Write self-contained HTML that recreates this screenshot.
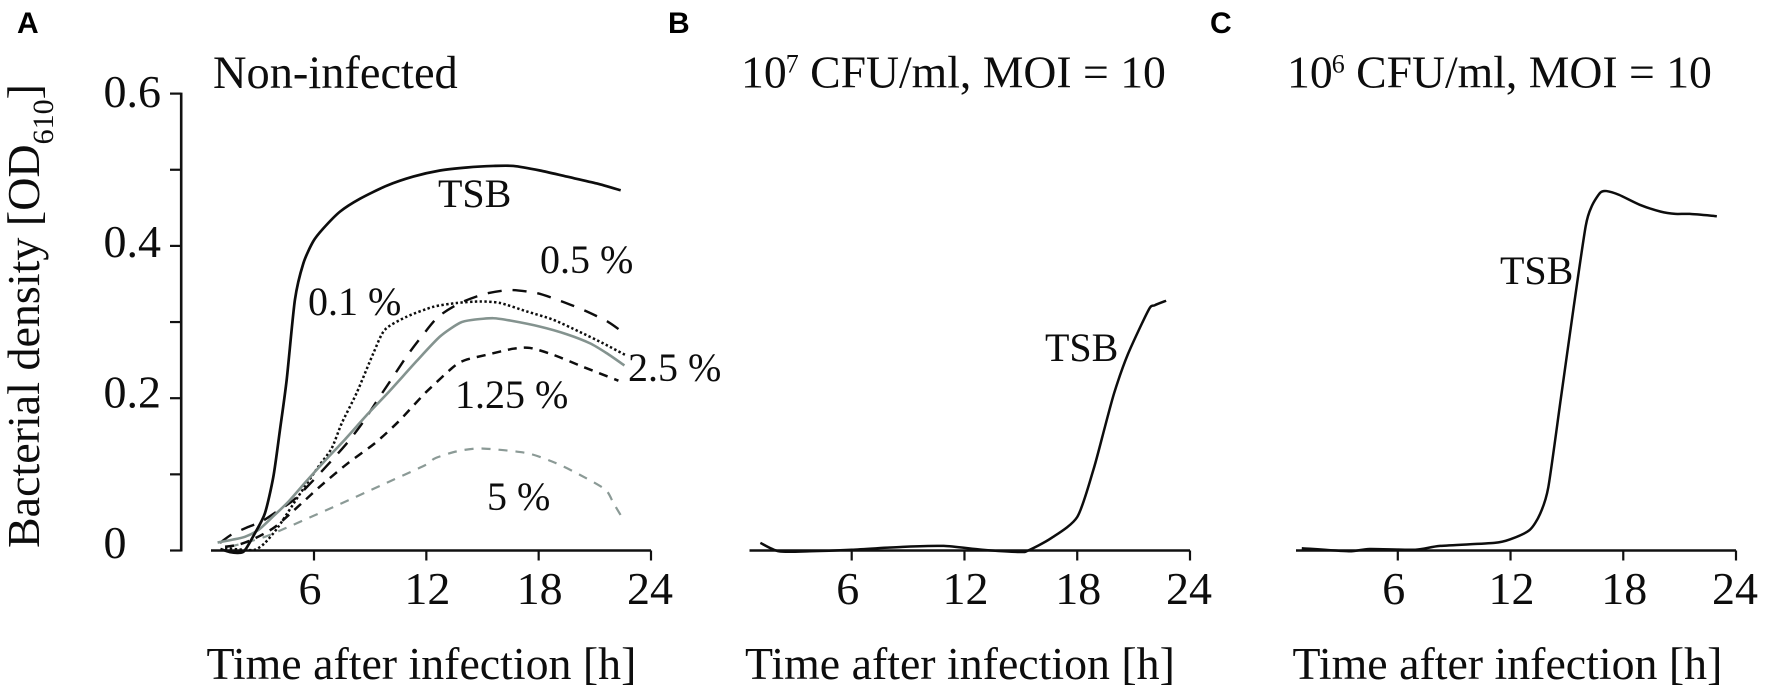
<!DOCTYPE html>
<html lang="en">
<head>
<meta charset="utf-8">
<title>Bacterial density over time</title>
<style>
  html, body { margin: 0; padding: 0; background: #fff; }
  #figure { display: block; width: 1772px; height: 695px; filter: blur(0.35px); }
  text { font-family: "Liberation Serif", serif; fill: #0d0d0d; }
  .big { font-size: 46px; }
  .xtitle { font-size: 45.85px; }
  .ptitle { font-size: 45.7px; }
  .lab { font-size: 40px; }
  .letter { font-family: "Liberation Sans", sans-serif; font-weight: 700; font-size: 30px; fill: #000; }
</style>
</head>
<body>
<svg id="figure" xmlns="http://www.w3.org/2000/svg" width="1772" height="695" viewBox="0 0 1772 695">
  <rect x="0" y="0" width="1772" height="695" fill="#fff"/>

  <text class="letter" x="17" y="33">A</text>
  <text class="letter" x="668" y="33">B</text>
  <text class="letter" x="1210" y="33">C</text>

  <text class="big" x="213" y="88" font-size="46.4" style="font-size:46.4px">Non-infected</text>
  <text class="ptitle" x="741" y="87.5">10<tspan font-size="26" style="font-size:26px" dx="-1" dy="-15">7</tspan><tspan dy="15"> CFU/ml, MOI = 10</tspan></text>
  <text class="ptitle" x="1287" y="87.5">10<tspan font-size="26" style="font-size:26px" dx="-1" dy="-15">6</tspan><tspan dy="15"> CFU/ml, MOI = 10</tspan></text>

  <text class="big" transform="translate(39 548) rotate(-90)" x="0" y="0">Bacterial density [OD<tspan font-size="30" style="font-size:30px" dy="14">610</tspan><tspan dy="-14">]</tspan></text>

  <text class="xtitle" x="206.5" y="679">Time after infection [h]</text>
  <text class="xtitle" x="745" y="679">Time after infection [h]</text>
  <text class="xtitle" x="1292.5" y="679">Time after infection [h]</text>

  <text class="lab" x="438" y="207">TSB</text>
  <text class="lab" x="540" y="273">0.5 %</text>
  <text class="lab" x="308" y="315">0.1 %</text>
  <text class="lab" x="628" y="381">2.5 %</text>
  <text class="lab" x="455" y="408">1.25 %</text>
  <text class="lab" x="487" y="510">5 %</text>
  <text class="lab" x="1045" y="361">TSB</text>
  <text class="lab" x="1500" y="284">TSB</text>

  <g id="axes"></g>
  <g id="series"></g>
</svg>

<script>
var xTickValues = [6, 12, 18, 24];
var xTickLabels = ["6", "12", "18", "24"];
var yTickValues = [0, 0.1, 0.2, 0.3, 0.4, 0.5, 0.6];
var yLabelValues = [0, 0.2, 0.4, 0.6];
var yLabelTexts = ["0", "0.2", "0.4", "0.6"];

var tsbAHours = [1.0, 1.5, 2.0, 2.3, 2.85, 3.38, 3.83, 4.18, 4.54, 4.98, 5.43, 5.96, 6.5, 7.39, 8.46, 9.88, 11.3, 12.73, 14.16, 15.58, 16.65, 18.07, 19.5, 21.1, 22.38];
var tsbAValues = [0.002, -0.002, -0.003, 0, 0.023, 0.049, 0.097, 0.158, 0.224, 0.329, 0.377, 0.406, 0.423, 0.445, 0.462, 0.479, 0.491, 0.499, 0.503, 0.505, 0.505, 0.499, 0.491, 0.482, 0.473];

var p01Hours = [1.25, 2.2, 2.85, 3.38, 4.09, 5.16, 6.23, 6.94, 7.48, 8.28, 9.17, 9.79, 10.95, 12.37, 13.62, 14.87, 15.94, 17.36, 18.78, 20.2, 21.45, 22.61];
var p01Values = [0.003, 0.001, 0.001, 0.01, 0.031, 0.071, 0.11, 0.134, 0.167, 0.207, 0.259, 0.29, 0.307, 0.32, 0.325, 0.327, 0.325, 0.314, 0.303, 0.287, 0.272, 0.257];

var p05Hours = [0.98, 1.6, 2.49, 3.2, 4.0, 4.9, 5.88, 6.9, 7.83, 8.63, 9.43, 10.06, 10.95, 11.75, 12.64, 13.8, 15.13, 16.47, 17.9, 19.14, 20.47, 21.72, 22.58];
var p05Values = [0.01, 0.021, 0.031, 0.038, 0.051, 0.066, 0.09, 0.117, 0.143, 0.169, 0.199, 0.222, 0.255, 0.281, 0.307, 0.325, 0.337, 0.342, 0.338, 0.328, 0.315, 0.3, 0.285];

var p25Hours = [0.85, 1.6, 2.31, 3.03, 3.74, 4.63, 5.52, 6.59, 7.66, 8.9, 10.06, 11.49, 12.73, 13.8, 14.51, 15.58, 16.47, 18.07, 19.5, 20.75, 21.64, 22.58];
var p25Values = [0.0105, 0.014, 0.018, 0.027, 0.043, 0.064, 0.089, 0.118, 0.146, 0.18, 0.21, 0.249, 0.281, 0.299, 0.303, 0.305, 0.302, 0.294, 0.284, 0.272, 0.259, 0.243];

var p125Hours = [1.25, 1.96, 2.85, 3.92, 5.34, 6.41, 7.83, 9.26, 10.5, 11.75, 12.2, 13.44, 14.07, 15.22, 16.65, 17.54, 18.78, 20.39, 22.26];
var p125Values = [0.005, 0.0075, 0.016, 0.031, 0.062, 0.086, 0.115, 0.141, 0.169, 0.202, 0.213, 0.241, 0.25, 0.257, 0.265, 0.266, 0.257, 0.241, 0.223];

var p5Hours = [1.5, 2.31, 3.38, 4.45, 7.3, 9.62, 11.93, 12.46, 13.59, 14.92, 17.35, 18.9, 20.23, 21.56, 22.0, 22.56];
var p5Values = [0.005, 0.01, 0.018, 0.029, 0.06, 0.086, 0.112, 0.121, 0.13, 0.134, 0.128, 0.115, 0.099, 0.08, 0.062, 0.039];

var tsbBHours = [1.14, 2.12, 3.76, 6, 8.86, 10.9, 12.94, 14.98, 15.39, 16.6, 18, 18.86, 19.47, 19.98, 20.7, 21.8, 22.12, 22.73];
var tsbBValues = [0.01, -0.001, -0.001, 0.001, 0.005, 0.006, 0.001, -0.002, 0, 0.016, 0.044, 0.106, 0.162, 0.208, 0.258, 0.316, 0.322, 0.328];

var tsbCHours = [0.89, 3.39, 4.5, 6.93, 8.26, 11.14, 12.02, 13.02, 13.57, 14.01, 14.68, 15.34, 16, 16.34, 16.78, 17.11, 17.78, 18.88, 19.99, 20.77, 21.54, 22.98];
var tsbCValues = [0.003, -0.001, 0.002, 0.001, 0.006, 0.01, 0.015, 0.027, 0.048, 0.083, 0.2, 0.316, 0.426, 0.453, 0.47, 0.472, 0.467, 0.454, 0.445, 0.442, 0.442, 0.439];

var NS = "http://www.w3.org/2000/svg";
var axesLayer = document.getElementById("axes");
var seriesLayer = document.getElementById("series");

var Y_ZERO = 550.5;
var Y_PER_OD = 761.5;
function yScale(od) { return Y_ZERO - od * Y_PER_OD; }
function yLabelBaseline(od) { return 558 - od * 752; }

function xScaleFor(x6, x24) {
  return function (h) { return x6 + (h - 6) * (x24 - x6) / 18; };
}
var xA = xScaleFor(314, 651);
var xB = xScaleFor(851.7, 1190);
var xC = xScaleFor(1397.8, 1736);

function make(tag, parent) {
  var el = document.createElementNS(NS, tag);
  parent.appendChild(el);
  return el;
}

function line(x1, y1, x2, y2, width) {
  var el = make("line", axesLayer);
  el.setAttribute("x1", x1);
  el.setAttribute("y1", y1);
  el.setAttribute("x2", x2);
  el.setAttribute("y2", y2);
  el.setAttribute("stroke", "#111");
  el.setAttribute("stroke-width", width);
  return el;
}

function curvePath(hours, values, xs) {
  var pts = hours.map(function (h, i) { return [xs(h), yScale(values[i])]; });
  var d = "M" + pts[0][0].toFixed(2) + " " + pts[0][1].toFixed(2);
  for (var i = 0; i < pts.length - 1; i++) {
    var p0 = pts[Math.max(0, i - 1)];
    var p1 = pts[i];
    var p2 = pts[i + 1];
    var p3 = pts[Math.min(pts.length - 1, i + 2)];
    var c1x = p1[0] + (p2[0] - p0[0]) / 8;
    var c1y = p1[1] + (p2[1] - p0[1]) / 8;
    var c2x = p2[0] - (p3[0] - p1[0]) / 8;
    var c2y = p2[1] - (p3[1] - p1[1]) / 8;
    d += "C" + c1x.toFixed(2) + " " + c1y.toFixed(2) + " " + c2x.toFixed(2) + " " + c2y.toFixed(2) + " " + p2[0].toFixed(2) + " " + p2[1].toFixed(2);
  }
  return d;
}

function drawSeries(hours, values, xs, color, width, dash) {
  var el = make("path", seriesLayer);
  el.setAttribute("d", curvePath(hours, values, xs));
  el.setAttribute("fill", "none");
  el.setAttribute("stroke", color);
  el.setAttribute("stroke-width", width);
  el.setAttribute("stroke-linejoin", "round");
  if (dash) { el.setAttribute("stroke-dasharray", dash); }
  return el;
}

function drawXAxis(xs, startX, panel) {
  var base = line(startX, Y_ZERO, xs(24), Y_ZERO, 2.4);
  
  
  var nudges = [-4, 1, 1, -1];
  xTickValues.forEach(function (v, i) {
    var tick = line(xs(v), Y_ZERO, xs(v), Y_ZERO + 10, 2.2);
    
    
    var label = make("text", axesLayer);
    label.setAttribute("class", "big");
    label.setAttribute("x", xs(v) + nudges[i]);
    label.setAttribute("y", 604);
    label.setAttribute("text-anchor", "middle");
    label.textContent = xTickLabels[i];
    
    
  });
}

function drawYAxis() {
  var axisX = 181.2;
  var spine = line(axisX, yScale(0.6) - 1, axisX, Y_ZERO + 1, 2.6);
  
  
  yTickValues.forEach(function (v) {
    var tick = line(170, yScale(v), axisX, yScale(v), 2.2);
    
    
  });
  yLabelValues.forEach(function (v, i) {
    var label = make("text", axesLayer);
    label.setAttribute("class", "big");
    label.setAttribute("x", 103.5);
    label.setAttribute("y", yLabelBaseline(v));
    label.textContent = yLabelTexts[i];
    
    
  });
}

drawYAxis();
drawXAxis(xA, 211, "panel-a");
drawXAxis(xB, 749.5, "panel-b");
drawXAxis(xC, 1296, "panel-c");

var GRAY = "#84938f";

var s5 = drawSeries(p5Hours, p5Values, xA, "#8b9a96", 2.2, "9 8");



var s125 = drawSeries(p125Hours, p125Values, xA, "#0d0d0d", 2.5, "9 7");



var s05 = drawSeries(p05Hours, p05Values, xA, "#0d0d0d", 2.4, "14 11");



var s01 = drawSeries(p01Hours, p01Values, xA, "#0d0d0d", 2.5, "2.4 2.4");



var s25 = drawSeries(p25Hours, p25Values, xA, GRAY, 2.6, null);



var sTsbA = drawSeries(tsbAHours, tsbAValues, xA, "#0d0d0d", 2.7, null);



var sTsbB = drawSeries(tsbBHours, tsbBValues, xB, "#0d0d0d", 2.5, null);



var sTsbC = drawSeries(tsbCHours, tsbCValues, xC, "#0d0d0d", 2.5, null);


</script>
</body>
</html>
